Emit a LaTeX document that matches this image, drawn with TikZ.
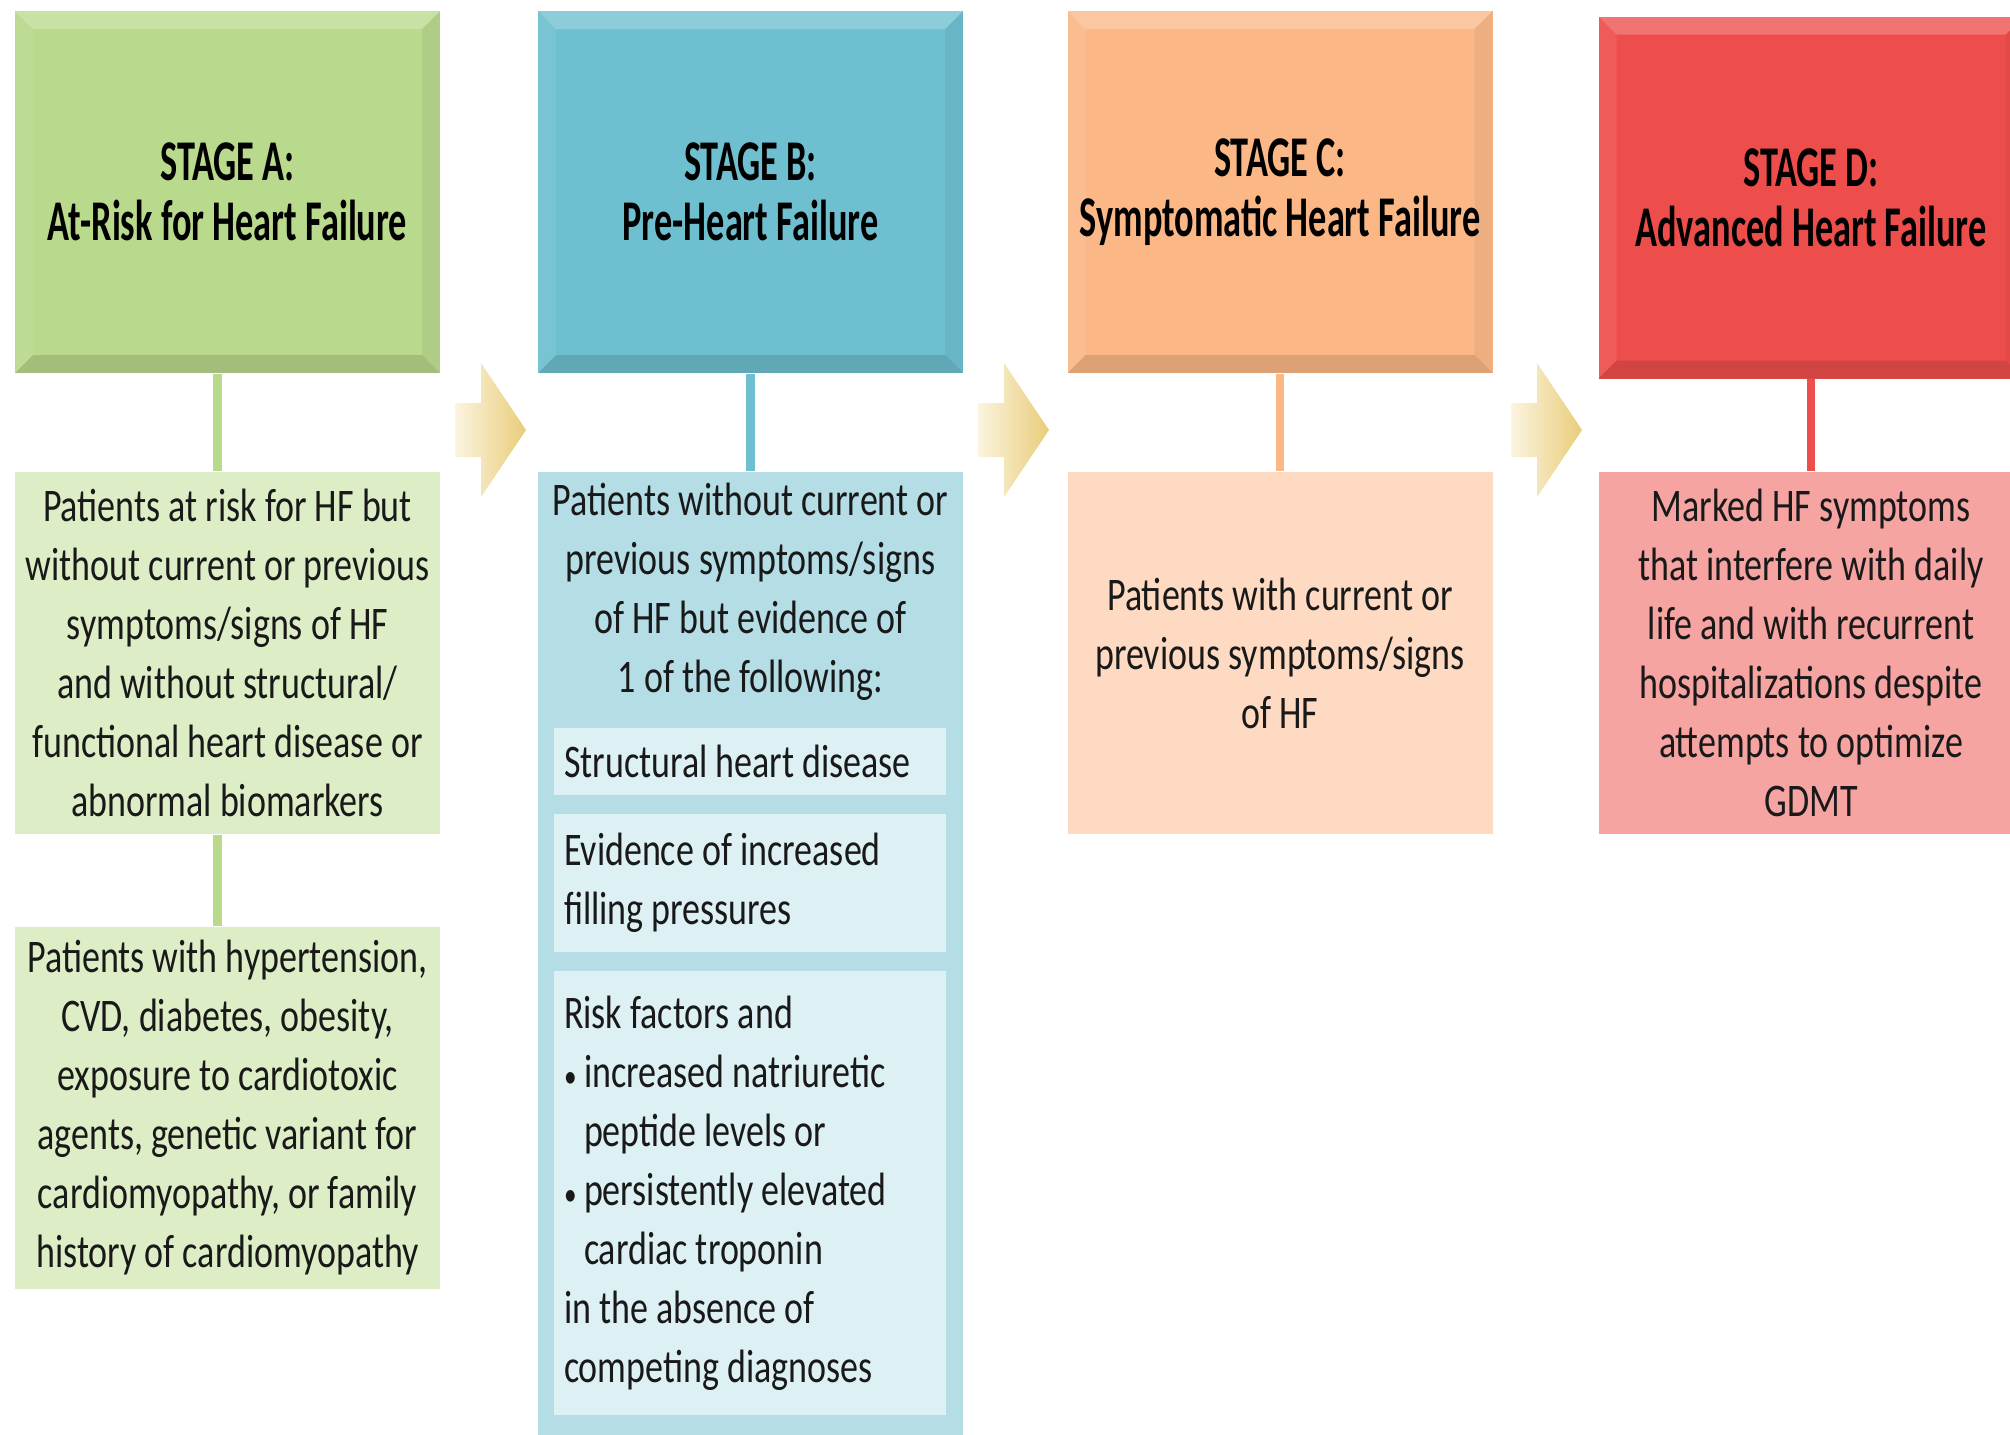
\documentclass[tikz,border=0pt]{standalone}
\usepackage{fontspec}
\setmainfont[FakeStretch=0.77]{Carlito}
\newfontfamily\headfont[FakeStretch=0.63]{Carlito}

\definecolor{stageAhead}{HTML}{B9D98C}
\definecolor{stageAbody}{HTML}{DDEDC6}
\definecolor{stageBhead}{HTML}{6EC0D0}
\definecolor{stageBbody}{HTML}{B4DDE6}
\definecolor{stageBinner}{HTML}{DDF0F4}
\definecolor{stageChead}{HTML}{FBB886}
\definecolor{stageCbody}{HTML}{FDDAC1}
\definecolor{stageDhead}{HTML}{EE4E4B}
\definecolor{stageDbody}{HTML}{F5A4A2}
\definecolor{arrowpale}{HTML}{FBF4DF}
\definecolor{arrowgold}{HTML}{E9CD7A}

\newcommand{\critbullet}{\makebox[0.2cm][l]{\scalebox{0.7}{•}}}
\newcommand{\critindent}{\hspace*{0.2cm}}

\begin{document}
\begin{tikzpicture}[
    bevel/.style={path picture={
        \fill[white,opacity=.22] (path picture bounding box.north west) -- (path picture bounding box.north east) -- ([shift={(-.18,-.18)}]path picture bounding box.north east) -- ([shift={(.18,-.18)}]path picture bounding box.north west) -- cycle;
        \fill[white,opacity=.08] (path picture bounding box.north west) -- ([shift={(.18,-.18)}]path picture bounding box.north west) -- ([shift={(.18,.18)}]path picture bounding box.south west) -- (path picture bounding box.south west) -- cycle;
        \fill[black,opacity=.12] (path picture bounding box.south west) -- ([shift={(.18,.18)}]path picture bounding box.south west) -- ([shift={(-.18,.18)}]path picture bounding box.south east) -- (path picture bounding box.south east) -- cycle;
        \fill[black,opacity=.05] (path picture bounding box.north east) -- ([shift={(-.18,-.18)}]path picture bounding box.north east) -- ([shift={(-.18,.18)}]path picture bounding box.south east) -- (path picture bounding box.south east) -- cycle;
    }},
    stagehead/.style={minimum width=4.25cm, minimum height=3.62cm, inner sep=0pt, align=center,
        font=\headfont\bfseries\fontsize{16.4}{17}\selectfont, bevel},
    stagetext/.style={minimum width=4.25cm, minimum height=3.62cm, inner sep=0pt, align=center,
        text=black!90, font=\fontsize{13.3}{16.8}\selectfont},
    innerbox/.style={fill=stageBinner, text width=3.72cm, inner sep=0.1cm, align=flush left,
        text=black!90, font=\fontsize{13.3}{16.8}\selectfont},
    link/.style={line width=2.3pt},
    stagearrow/.style={left color=arrowpale, right color=arrowgold}
]
\path[use as bounding box, fill=white] (0,0) rectangle (20.1,-14.34);

% Stage headers
\node[stagehead, fill=stageAhead] (hA) at (2.275,-1.92) {STAGE A:\\At-Risk for Heart Failure};
\node[stagehead, fill=stageBhead] (hB) at (7.505,-1.92) {STAGE B:\\Pre-Heart Failure};
\node[stagehead, fill=stageChead] (hC) at (12.80,-1.92) {STAGE C:\\Symptomatic Heart Failure};
\node[stagehead, fill=stageDhead] (hD) at (18.11,-1.975) {STAGE D:\\Advanced Heart Failure};

% Description boxes
\node[stagetext, fill=stageAbody] (pA) at (2.275,-6.53) {Patients at risk for HF but\\without current or previous\\symptoms/signs of HF\\and without structural/\\functional heart disease or\\abnormal biomarkers};
\node[stagetext, fill=stageAbody] (qA) at (2.275,-11.075) {Patients with hypertension,\\CVD, diabetes, obesity,\\exposure to cardiotoxic\\agents, genetic variant for\\cardiomyopathy, or family\\history of cardiomyopathy};
\node[stagetext, fill=stageBbody, minimum height=9.78cm] (pB) at (7.505,-9.61) {};
\node[stagetext] (tB) at (7.505,-5.92) {Patients without current or\\previous symptoms/signs\\of HF but evidence of\\1 of the following:};
\node[stagetext, fill=stageCbody] (pC) at (12.80,-6.53) {Patients with current or\\previous symptoms/signs\\of HF};
\node[stagetext, fill=stageDbody] (pD) at (18.11,-6.53) {Marked HF symptoms\\that interfere with daily\\life and with recurrent\\hospitalizations despite\\attempts to optimize\\GDMT};

% Stage B criteria
\node[innerbox, minimum height=0.67cm] (b1) at (7.50,-7.615) {Structural heart disease};
\node[innerbox, minimum height=1.38cm] (b2) at (7.50,-8.83) {Evidence of increased\\filling pressures};
\node[innerbox, minimum height=4.44cm] (b3) at (7.50,-11.93) {Risk factors and\\
    \critbullet increased natriuretic\\
    \critindent peptide levels or\\
    \critbullet persistently elevated\\
    \critindent cardiac troponin\\
    in the absence of\\
    competing diagnoses};

% Connectors
\draw[link, stageAhead] ([xshift=-0.1cm]hA.south) -- ([xshift=-0.1cm]pA.north);
\draw[link, stageAhead] ([xshift=-0.1cm]pA.south) -- ([xshift=-0.1cm]qA.north);
\draw[link, stageBhead] (hB.south) -- (pB.north);
\draw[link, stageChead] (hC.south) -- (pC.north);
\draw[link, stageDhead] (hD.south) -- (pD.north);

% Progression arrows
\foreach \ax in {4.55,9.78,15.11}
    \shade[stagearrow] (\ax,-4.03) -- ++(0.26,0) -- ++(0,0.40) -- ++(0.45,-0.67)
        -- ++(-0.45,-0.67) -- ++(0,0.40) -- ++(-0.26,0) -- cycle;
\end{tikzpicture}
\end{document}
